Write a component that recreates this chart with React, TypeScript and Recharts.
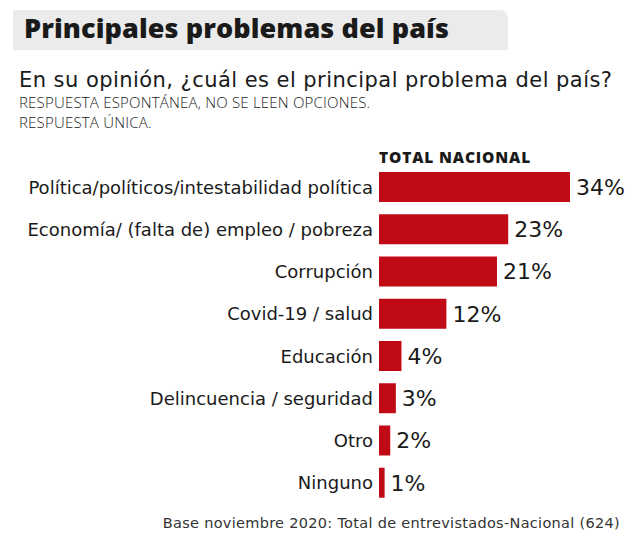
import { BarChart, Bar, XAxis, YAxis, LabelList } from 'recharts';

const categories = [
  'Política/políticos/intestabilidad política',
  'Economía/ (falta de) empleo / pobreza',
  'Corrupción',
  'Covid-19 / salud',
  'Educación',
  'Delincuencia / seguridad',
  'Otro',
  'Ninguno',
];
const values = [34, 23, 21, 12, 4, 3, 2, 1];

const data = categories.map((name, i) => ({ name, value: values[i] }));

const font = '"Open Sans", sans-serif';
const body = '"DejaVu Sans", sans-serif';

const upper = { position: 'absolute' as const, left: 19, fontFamily: font, fontSize: 15, letterSpacing: 0.2, lineHeight: '18px', fontWeight: 300, color: '#222', whiteSpace: 'nowrap' as const };

export default function App() {
  return (
    <div style={{ position: 'absolute', left: 0, top: 0, width: 640, height: 540, background: '#fff', fontFamily: body, color: '#1a1a1a' }}>
      <div style={{ position: 'absolute', left: 13, top: 10, width: 495, height: 40, background: '#ebebeb', borderTopRightRadius: 8 }} />
      <div style={{ position: 'absolute', left: 24, top: 8, fontFamily: font, fontSize: 27, fontWeight: 800, letterSpacing: 0.1, lineHeight: '40px', color: '#1a1a1a', whiteSpace: 'nowrap' }}>
        Principales problemas del país
      </div>
      <div style={{ position: 'absolute', left: 19, top: 67, fontSize: 21, letterSpacing: 0.45, lineHeight: '26px', whiteSpace: 'nowrap' }}>
        En su opinión, ¿cuál es el principal problema del país?
      </div>
      <div style={{ ...upper, top: 93 }}>RESPUESTA ESPONTÁNEA, NO SE LEEN OPCIONES.</div>
      <div style={{ ...upper, top: 113 }}>RESPUESTA ÚNICA.</div>
      <div style={{ position: 'absolute', left: 379, top: 147.4, fontFamily: font, fontSize: 15.5, fontWeight: 800, letterSpacing: 0.85, lineHeight: '20px', whiteSpace: 'nowrap' }}>
        TOTAL NACIONAL
      </div>
      <div style={{ position: 'absolute', right: 20, top: 513.3, fontSize: 14.5, letterSpacing: 0.3, lineHeight: '20px', color: '#333', whiteSpace: 'nowrap' }}>
        Base noviembre 2020: Total de entrevistados-Nacional (624)
      </div>
      <div style={{ position: 'absolute', left: 0, top: 0 }}>
        <BarChart
          width={640}
          height={540}
          data={data}
          layout="vertical"
          margin={{ top: 166, bottom: 36, left: 10, right: 70 }}
        >
          <XAxis type="number" domain={[0, 34]} hide />
          <YAxis
            type="category"
            dataKey="name"
            width={369}
            axisLine={false}
            tickLine={false}
            tickSize={0}
            tickMargin={6}
            tick={{ fontSize: 18, fill: '#1a1a1a', fontFamily: body }}
            interval={0}
          />
          <Bar dataKey="value" fill="#c00a16" barSize={30} isAnimationActive={false}>
            <LabelList
              dataKey="value"
              position="right"
              offset={6}
              formatter={(v: number) => `${v}%`}
              style={{ fontSize: 22, fill: '#1a1a1a', fontFamily: body }}
            />
          </Bar>
        </BarChart>
      </div>
    </div>
  );
}
